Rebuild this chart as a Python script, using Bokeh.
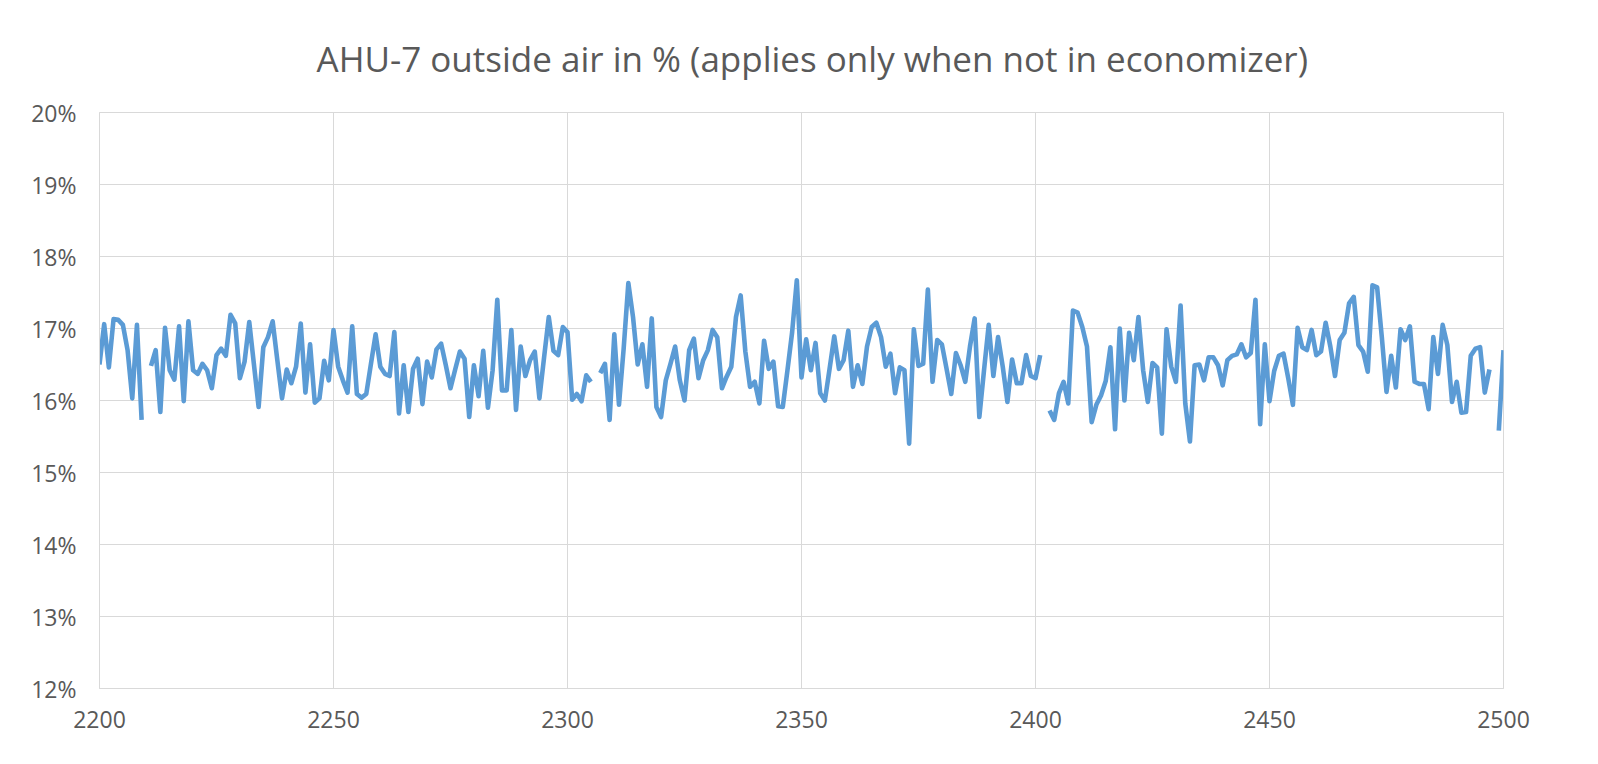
import math
from bokeh.plotting import figure
from bokeh.models import Range1d, PrintfTickFormatter, FixedTicker
from bokeh.embed import file_html
from bokeh.resources import INLINE

TITLE = "AHU-7  outside air in % (applies only when not in economizer)"

x_first = 2200
x_ticks = [2200, 2250, 2300, 2350, 2400, 2450, 2500]
y_ticks = [12, 13, 14, 15, 16, 17, 18, 19, 20]

# outside air %, one reading per sample index 2200..2500 (None = missing)
oa_2200_2249 = [16.50, 17.06, 16.46, 17.13, 17.12, 17.05, 16.70, 16.03, 17.05, 15.73,
                None, 16.48, 16.70, 15.84, 17.01, 16.42, 16.29, 17.03, 15.99, 17.10,
                16.42, 16.37, 16.51, 16.42, 16.17, 16.63, 16.72, 16.62, 17.19, 17.07,
                16.31, 16.54, 17.09, 16.50, 15.91, 16.74, 16.88, 17.10, 16.56, 16.03,
                16.43, 16.24, 16.47, 17.07, 16.11, 16.78, 15.97, 16.03, 16.55, 16.28]
oa_2250_2299 = [16.98, 16.47, 16.28, 16.11, 17.03, 16.09, 16.04, 16.09, 16.51, 16.92,
                16.47, 16.37, 16.34, 16.95, 15.82, 16.49, 15.84, 16.44, 16.58, 15.95,
                16.54, 16.32, 16.71, 16.79, 16.49, 16.17, 16.43, 16.68, 16.58, 15.77,
                16.49, 16.06, 16.69, 15.90, 16.42, 17.40, 16.14, 16.14, 16.98, 15.87,
                16.75, 16.34, 16.56, 16.68, 16.03, 16.60, 17.16, 16.69, 16.63, 17.02]
oa_2300_2349 = [16.95, 16.01, 16.09, 15.99, 16.35, 16.26, None, 16.38, 16.51, 15.73,
                16.92, 15.94, 16.72, 17.63, 17.16, 16.50, 16.78, 16.19, 17.14, 15.91,
                15.77, 16.28, 16.51, 16.75, 16.28, 16.00, 16.70, 16.86, 16.31, 16.56,
                16.70, 16.98, 16.88, 16.17, 16.33, 16.47, 17.16, 17.46, 16.68, 16.19,
                16.26, 15.96, 16.83, 16.44, 16.54, 15.92, 15.91, 16.42, 16.95, 17.67]
oa_2350_2399 = [16.32, 16.85, 16.42, 16.80, 16.10, 16.00, 16.44, 16.89, 16.44, 16.56,
                16.97, 16.19, 16.49, 16.23, 16.75, 17.02, 17.08, 16.88, 16.47, 16.65,
                16.10, 16.46, 16.42, 15.40, 16.99, 16.48, 16.51, 17.54, 16.26, 16.84,
                16.78, 16.44, 16.09, 16.66, 16.49, 16.26, 16.75, 17.14, 15.77, 16.42,
                17.05, 16.34, 16.88, 16.47, 15.98, 16.57, 16.24, 16.24, 16.63, 16.34]
oa_2400_2449 = [16.31, 16.63, None, 15.86, 15.73, 16.10, 16.26, 15.96, 17.25, 17.22,
                17.02, 16.75, 15.70, 15.94, 16.07, 16.27, 16.74, 15.60, 17.00, 16.00,
                16.94, 16.56, 17.16, 16.42, 15.98, 16.52, 16.46, 15.54, 16.99, 16.47,
                16.26, 17.32, 15.96, 15.43, 16.49, 16.50, 16.28, 16.60, 16.60, 16.49,
                16.21, 16.56, 16.62, 16.64, 16.78, 16.60, 16.66, 17.40, 15.67, 16.78]
oa_2450_2500 = [15.99, 16.41, 16.62, 16.65, 16.31, 15.94, 17.01, 16.74, 16.70, 16.98,
                16.63, 16.68, 17.08, 16.75, 16.34, 16.84, 16.94, 17.35, 17.44, 16.77,
                16.68, 16.40, 17.60, 17.57, 16.88, 16.12, 16.62, 16.18, 16.99, 16.84,
                17.03, 16.26, 16.23, 16.23, 15.88, 16.88, 16.37, 17.05, 16.77, 15.98,
                16.26, 15.83, 15.84, 16.62, 16.72, 16.74, 16.11, 16.43, None, 15.58,
                16.70]

values = oa_2200_2249 + oa_2250_2299 + oa_2300_2349 + oa_2350_2399 + oa_2400_2449 + oa_2450_2500
ys = [float("nan") if v is None else v for v in values]
xs = [x_first + i for i in range(len(ys))]

p = figure(width=1590, height=756, output_backend="svg", toolbar_location=None,
           x_range=Range1d(2200, 2500), y_range=Range1d(12, 20),
           min_border_left=99, min_border_right=87, min_border_top=112, min_border_bottom=68)

p.title.text = TITLE
p.title.align = "left"
p.title.offset = 217
p.title.text_font = "Open Sans"
p.title.text_font_size = "35px"
p.title.text_font_style = "normal"
p.title.text_color = "#595959"
p.title.standoff = 61

p.line(xs, ys, line_color="#5B9BD5", line_width=4.6, line_join="round")

p.outline_line_color = "#d9d9d9"
p.background_fill_color = "white"
p.border_fill_color = "white"

for ax in (p.xaxis, p.yaxis):
    ax.axis_line_color = "#d9d9d9"
    ax.major_tick_line_color = None
    ax.minor_tick_line_color = None
    ax.major_tick_out = 0
    ax.major_tick_in = 0
    ax.major_label_text_font = "Open Sans"
    ax.major_label_text_font_size = "23px"
    ax.major_label_text_color = "#595959"

p.xaxis.ticker = FixedTicker(ticks=x_ticks)
p.yaxis.ticker = FixedTicker(ticks=y_ticks)
p.yaxis.formatter = PrintfTickFormatter(format="%d%%")
p.xaxis.major_label_standoff = 22
p.yaxis.major_label_standoff = 23

p.xgrid.grid_line_color = "#d9d9d9"
p.ygrid.grid_line_color = "#d9d9d9"
p.xgrid.grid_line_width = 1
p.ygrid.grid_line_width = 1

open("out.html", "w").write(file_html(p, INLINE))
